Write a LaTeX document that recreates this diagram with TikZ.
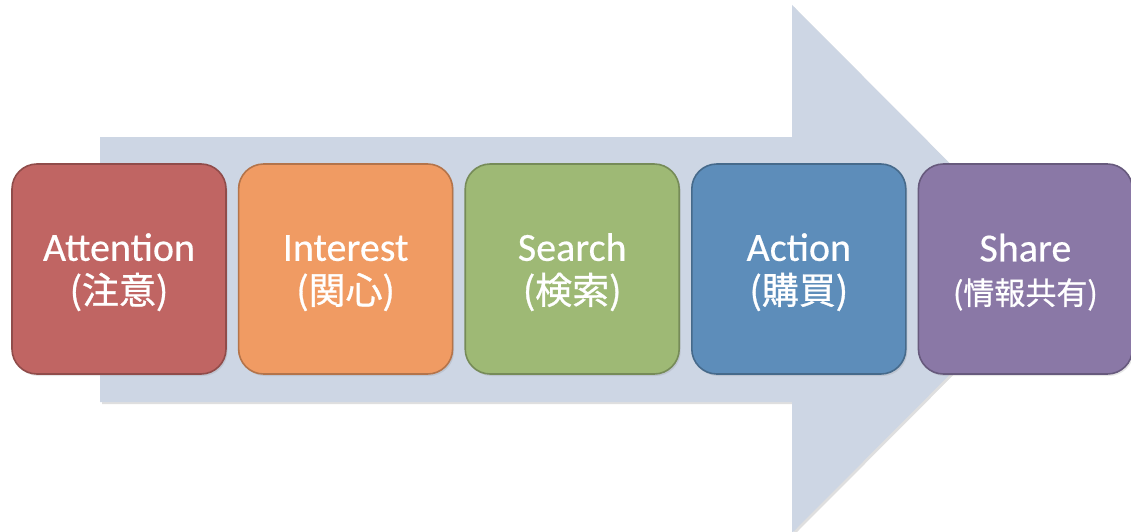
\documentclass[tikz,border=0pt]{standalone}
\usepackage{fontspec}
\setmainfont{Carlito}[FakeBold=0.4]
\newfontfamily\jpfont{Noto Sans CJK JP}[FakeBold=0.8]
\usepackage{tikz}
\usetikzlibrary{positioning, shadows}
\definecolor{ArrowBg}{RGB}{205, 214, 228}
\definecolor{StageRed}{RGB}{192, 101, 99}
\definecolor{StageOrange}{RGB}{240, 155, 99}
\definecolor{StageGreen}{RGB}{158, 185, 117}
\definecolor{StageBlue}{RGB}{93, 141, 186}
\definecolor{StagePurple}{RGB}{138, 120, 166}

\tikzset{
  stagebox/.style={fill=#1, draw=#1!75!black, line width=1.6pt, rounded corners=25pt,
                   minimum width=214pt, minimum height=210pt, align=center, text=white,
                   font=\fontsize{40}{43}\selectfont,
                   drop shadow={opacity=0.2, shadow xshift=1.5pt, shadow yshift=-2pt}}
}
% english title on top, japanese gloss underneath
\newcommand{\stagetext}[3][37]{\rule{0pt}{34pt}#2\\{\fontsize{#1}{#1}\selectfont\jpfont #3}}

\begin{document}
\begin{tikzpicture}[x=1pt, y=-1pt]
  \useasboundingbox (0,0) rectangle (1131,532);

  % big background arrow
  \fill[ArrowBg, drop shadow={opacity=0.25, shadow xshift=2pt, shadow yshift=-2pt}]
    (100,137) -- (792,137) -- (792,5) -- (1055,269) -- (792,533)
    -- (792,402) -- (100,402) -- cycle;

  % the five stages
  \node[stagebox=StageRed] (attention) at (119,269)
    {\stagetext{Attention}{(注意)}};
  \node[stagebox=StageOrange, right=11pt of attention] (interest)
    {\stagetext{Interest}{(関心)}};
  \node[stagebox=StageGreen, right=11pt of interest] (search)
    {\stagetext{Search}{(検索)}};
  \node[stagebox=StageBlue, right=11pt of search] (action)
    {\stagetext{Action}{(購買)}};
  \node[stagebox=StagePurple, right=11pt of action] (share)
    {\stagetext[31]{Share}{(情報共有)}};
\end{tikzpicture}
\end{document}
